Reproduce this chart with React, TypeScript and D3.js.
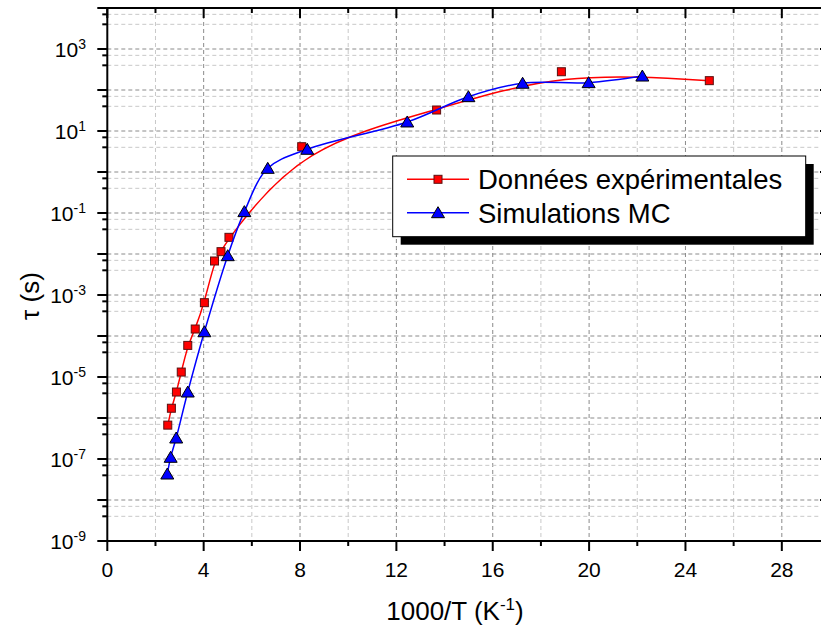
import React from "react";
import * as d3 from "d3";

// ---- data ----
const expX = [2.51, 2.66, 2.87, 3.07, 3.34, 3.65, 4.03, 4.45, 4.72, 5.05, 8.07, 13.67, 18.85, 24.99];
const expTau = [6.7e-7, 1.73e-6, 4.3e-6, 1.32e-5, 5.9e-5, 1.48e-4, 6.5e-4, 6.75e-3, 1.14e-2, 2.55e-2, 4.14, 32.5, 279, 169];
const simX = [2.49, 2.63, 2.86, 3.34, 4.03, 5.0, 5.69, 6.66, 8.3, 12.45, 14.99, 17.24, 19.98, 22.21];
const simTau = [4.3e-8, 1.1e-7, 3.25e-7, 4.3e-6, 1.27e-4, 9.1e-3, 0.108, 1.23, 3.58, 16.6, 68.7, 146, 151, 219];

const xMajorTicks = [0, 4, 8, 12, 16, 20, 24, 28];
const xMinorTicks = [2, 6, 10, 14, 18, 22, 26, 30];
const yExponents = [-9, -8, -7, -6, -5, -4, -3, -2, -1, 0, 1, 2, 3, 4];
const yLabelExponents = [-9, -7, -5, -3, -1, 1, 3];
const yMinorMultipliers = [4, 7];

const seriesNames = ["Données expérimentales", "Simulations MC"];
const xTitle = "1000/T (K";
const yTitle = "τ (s)";

const FONT = "'Liberation Sans', Arial, sans-serif";

export default function App() {
  const W = 821;
  const H = 633;
  const left = 107.3, right = 830, top = 8, bottom = 541;
  const x = d3.scaleLinear().domain([0, 30]).range([left, right]);
  const y = d3.scaleLog().domain([1e-9, 1e4]).range([bottom, top]);

  const exp = expX.map((v, i) => [v, expTau[i]] as [number, number]);
  const sim = simX.map((v, i) => [v, simTau[i]] as [number, number]);

  const redPath = d3.line<[number, number]>().x(d => x(d[0])).y(d => y(d[1])).curve(d3.curveBasis)(exp) || "";
  const bluePath = d3.line<[number, number]>().x(d => x(d[0])).y(d => y(d[1])).curve(d3.curveCatmullRom.alpha(0.5))(sim) || "";

  const yMajorVals = yExponents.map(e => Math.pow(10, e));
  const yMinorVals: number[] = [];
  yExponents.slice(0, -1).forEach(e => yMinorMultipliers.forEach(m => yMinorVals.push(m * Math.pow(10, e))));

  const tri = (cx: number, cy: number) => `M${cx},${cy - 6}L${cx + 6.5},${cy + 5}L${cx - 6.5},${cy + 5}Z`;

  const lg = { x: 392.7, y: 156, w: 413, h: 80.7 };

  return (
    <div style={{ position: "absolute", left: 0, top: 0 }}>
      <svg width={W} height={H} style={{ display: "block", background: "#fff" }} fontFamily={FONT}>
        <defs>
          <clipPath id="plotclip">
            <rect x={left} y={top} width={right - left} height={bottom - top} />
          </clipPath>
        </defs>
        <rect x={0} y={0} width={W} height={H} fill="#fff" />
        {/* grid */}
        <g>
          {xMinorTicks.map(t => (
            <line key={"gxm" + t} x1={x(t)} x2={x(t)} y1={top} y2={bottom} stroke="#c8c8c8" strokeWidth={1} strokeDasharray="4,3" />
          ))}
          {xMajorTicks.slice(1).map(t => (
            <line key={"gx" + t} x1={x(t)} x2={x(t)} y1={top} y2={bottom} stroke="#8a8a8a" strokeWidth={1} strokeDasharray="4,3" />
          ))}
          {yMinorVals.map((v, i) => (
            <line key={"gym" + i} x1={left} x2={right} y1={y(v)} y2={y(v)} stroke="#c8c8c8" strokeWidth={1} strokeDasharray="4,3" />
          ))}
          {yMajorVals.slice(1, -1).map((v, i) => (
            <line key={"gy" + i} x1={left} x2={right} y1={y(v)} y2={y(v)} stroke="#8a8a8a" strokeWidth={1} strokeDasharray="4,3" />
          ))}
        </g>
        {/* data */}
        <g clipPath="url(#plotclip)">
          <path d={redPath} fill="none" stroke="#ff0000" strokeWidth={1.5} />
          {exp.map((d, i) => (
            <rect key={"r" + i} x={x(d[0]) - 4} y={y(d[1]) - 4} width={8} height={8} fill="#ff0000" stroke="#5a1010" strokeWidth={1} />
          ))}
          <path d={bluePath} fill="none" stroke="#0000ff" strokeWidth={1.5} />
          {sim.map((d, i) => (
            <path key={"b" + i} d={tri(x(d[0]), y(d[1]))} fill="#0000ff" stroke="#000" strokeWidth={1} />
          ))}
        </g>
        {/* axes frame */}
        <g stroke="#000" strokeWidth={2}>
          <line x1={left} x2={right} y1={bottom} y2={bottom} />
          <line x1={left} x2={right} y1={top} y2={top} />
          <line x1={left} x2={left} y1={top - 1} y2={bottom + 1} />
          <line x1={right} x2={right} y1={top} y2={bottom} />
          {xMajorTicks.map(t => (
            <g key={"xt" + t}>
              <line x1={x(t)} x2={x(t)} y1={bottom} y2={bottom + 10} />
              <line x1={x(t)} x2={x(t)} y1={top} y2={top + 10} />
            </g>
          ))}
          {xMinorTicks.map(t => (
            <g key={"xmt" + t}>
              <line x1={x(t)} x2={x(t)} y1={bottom} y2={bottom + 5} />
              <line x1={x(t)} x2={x(t)} y1={top} y2={top + 5} />
            </g>
          ))}
          {yMajorVals.map((v, i) => (
            <g key={"yt" + i}>
              <line x1={left - 10} x2={left} y1={y(v)} y2={y(v)} />
              <line x1={right - 10} x2={right} y1={y(v)} y2={y(v)} />
            </g>
          ))}
          {yMinorVals.map((v, i) => (
            <g key={"ymt" + i}>
              <line x1={left - 5} x2={left} y1={y(v)} y2={y(v)} />
              <line x1={right - 5} x2={right} y1={y(v)} y2={y(v)} />
            </g>
          ))}
        </g>
        {/* tick labels */}
        <g fontSize={21} fill="#000">
          {xMajorTicks.map(t => (
            <text key={"xl" + t} x={x(t)} y={577} textAnchor="middle">{t}</text>
          ))}
          {yLabelExponents.map(e => (
            <text key={"yl" + e} x={86} y={y(Math.pow(10, e)) + 7.5} textAnchor="end">
              10<tspan fontSize={14} dy={-8}>{e}</tspan>
            </text>
          ))}
        </g>
        {/* axis titles */}
        <text x={455} y={620} fontSize={26} textAnchor="middle" fill="#000">
          {xTitle}<tspan fontSize={17} dy={-10}>-1</tspan><tspan dy={10}>)</tspan>
        </text>
        <text transform="translate(39,296) rotate(-90)" fontSize={26} textAnchor="middle" fill="#000">{yTitle}</text>
        {/* legend */}
        <g>
          <rect x={lg.x + 8} y={lg.y + 8} width={lg.w} height={lg.h} fill="#000" />
          <rect x={lg.x} y={lg.y} width={lg.w} height={lg.h} fill="#fff" stroke="#000" strokeWidth={1} />
          <line x1={407} x2={469} y1={179.3} y2={179.3} stroke="#ff0000" strokeWidth={1.5} />
          <rect x={438 - 4} y={179.3 - 4} width={8} height={8} fill="#ff0000" stroke="#5a1010" strokeWidth={1} />
          <text x={478} y={189} fontSize={27.5} fill="#000">{seriesNames[0]}</text>
          <line x1={407} x2={469} y1={212.7} y2={212.7} stroke="#0000ff" strokeWidth={1.5} />
          <path d={tri(438, 212.7)} fill="#0000ff" stroke="#000" strokeWidth={1} />
          <text x={478} y={222.5} fontSize={27.5} fill="#000">{seriesNames[1]}</text>
        </g>
      </svg>
    </div>
  );
}
